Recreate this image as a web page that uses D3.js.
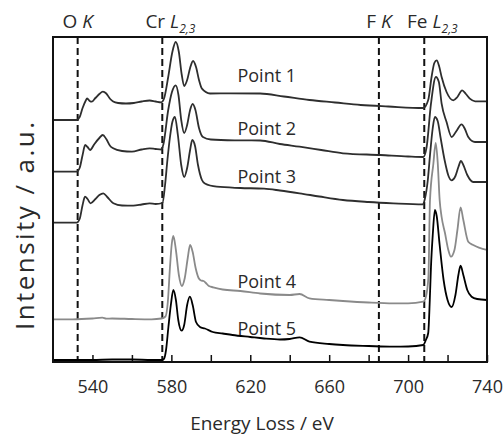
<!DOCTYPE html>
<html>
<head>
<meta charset="utf-8">
<script src="https://d3js.org/d3.v7.min.js"></script>
<style>
  body { margin: 0; background: #fff; }
  text { font-family: "Open Sans", "Noto Sans", sans-serif; fill: #2a2a2a; }
</style>
</head>
<body>
<script>

//////////////////
// Data (EELS)  //
//////////////////

// [energy loss (eV), intensity (a.u.)]
var point1 = [
  [520,242],[532,242],[533.5,245],[535,254],[536.5,261],[537.3,263.5],[538.6,261],[539.6,260.3],
  [541.5,264],[543.5,268],[545.3,270.3],[547,268.5],[549,263],[550.5,260.5],[553,259],[557,258.5],
  [561,259],[565,260.5],[569,261.5],[572,260.5],[574.8,259.7],[576.2,263],[578.4,285],[580.5,310],
  [582.2,320],[583.8,310],[585.2,288],[586.5,276],[588,282],[589.5,294],[591,301],[592.5,295],
  [594,282],[595.5,273.3],[599.6,268.5],[610,268.7],[625,268.5],[637,265.5],[650,262],[663,259.5],
  [676,257],[690,255.5],[707.7,254],[710.2,262],[711.9,285],[713.3,299],[714.5,301.7],[715.7,296],
  [717,285],[719.5,270],[722.9,261.7],[725,265],[727.4,271.7],[729.3,268],[731.3,263.3],[734,260.7],
  [740,260.7]
];

var point2 = [
  [520,190.3],[532,190.3],[533.5,194],[535,207],[536.3,217],[537.5,215],[538.8,212],[541,218],
  [543.5,224],[545.2,227],[547,223],[549,216],[550.5,213.7],[555,211],[560,210.3],[565,212.5],
  [569,213.7],[572,213],[575,212.5],[576,218],[578.4,252],[580.3,270],[582.2,276.7],[583.6,267],
  [585,242],[586.5,229],[588,237],[589.5,252],[590.8,258],[592.2,252],[594,234],[596,225],
  [600,222.5],[612,221.7],[625,221.5],[635,218],[645,215.3],[656,212],[667,208.7],[686,207],
  [700,205.5],[707.7,205],[709.4,215],[711.6,258.3],[714.1,285],[715.6,280],[717,258.3],[719.5,240],
  [722.1,225],[724.5,231],[727.1,237.7],[728.8,233],[730.5,225],[733.9,220],[740,220]
];

var point3 = [
  [520,139.3],[532,139.3],[533.5,143],[535,157],[536.2,165.3],[537.5,163],[539,158.7],[541.5,163],
  [543.5,167],[545.5,168.7],[547.5,165],[550.6,158.7],[555,156.5],[560.7,156.3],[565,157.5],[569,158.7],
  [572,158],[575.5,159],[576.8,177],[578,202],[579.3,225],[580.5,240],[581.8,245],[583.3,227],
  [585,197],[586.5,185],[588,194],[589.5,212],[590.6,222],[592,216],[593.5,197],[595.5,182],
  [597,178.5],[603,175.3],[615,174],[627,173.3],[635,171.5],[645,168.7],[655,165.5],[667,162],
  [680,160],[692.5,158.7],[707.5,157.7],[708.5,163],[710,182],[711.2,209],[712.5,234],[713.6,245],
  [715,241],[716.5,224],[718.5,202],[720.5,186],[722,181.7],[724,186],[725.5,195],[726.8,201],
  [728,197],[730,187],[733,180],[740,180]
];

var point4 = [
  [520,42.7],[530,42.7],[540,43.5],[545,44.3],[547,43.3],[550,43.5],[560,43],[570,42.7],
  [575,43.5],[577,45.5],[578.2,60],[579.3,95],[580.2,118],[581,126],[582.3,112],[583.8,87],
  [585.3,76],[586.8,84],[588.3,104],[589.5,117],[590.8,110],[592.3,94],[593.8,84],[595,81.5],
  [596.3,81],[597.5,79],[599,76],[601.2,74.7],[606,72.5],[615,71],[625,68.5],[640,67],
  [645,68],[650,63.7],[660,62],[667,61],[680,59.5],[692.5,58.7],[700,58.7],[707.7,60.3],
  [709,65],[710.3,85],[711.1,161.7],[712.8,198],[714,219],[715,200],[716,162],[717,145],
  [718.7,129],[720.4,112],[721.7,105.3],[723.5,112],[725,132],[726.6,154.7],[728,142],[730.5,120.3],
  [733,117],[740,112]
];

var point5 = [
  [520,2],[540,2],[550,2.5],[560,2.5],[570,2],[575,2],[576.2,3],[577.3,12],
  [578.5,35],[579.8,58],[581,72],[582.3,62],[583.5,42],[585.2,31.3],[586.5,37],[588,57],
  [589.4,65.3],[590.8,57],[592.5,40],[594.5,35],[597,33.5],[601,30],[606,28.5],[611,27],
  [620,25],[627,23.5],[635,22.5],[640,23],[645,24.7],[650,20.3],[660,18],[667,17],
  [680,16],[692.5,15.3],[700,15.5],[707.7,17],[709,22],[710.2,29],[711,62],[711.6,95],
  [712.5,127],[713.6,152],[714.5,146],[716,117],[718,82],[720,62],[722.1,55],[724,67],
  [725.5,87],[726.6,96.3],[728,87],[730,72],[732.2,65.3],[735,63],[740,62]
];

var seriesNames = ['Point 1', 'Point 2', 'Point 3', 'Point 4', 'Point 5'];

// core-loss edges marked with dashed lines
var edgeElements = ['O', 'Cr', 'F', 'Fe'];
var edgeShells = ['K', 'L', 'K', 'L'];
var edgeSubs = ['', '2,3', '', '2,3'];
var edgeEnergies = [532.5, 575.4, 685.2, 708.2];

var xTicks = d3.range(540, 741, 20);
var xTickLabels = [540, 580, 620, 660, 700, 740];

////////////////
// Build SVG  //
////////////////

var W = 503, H = 437;
var box = { left: 53, right: 487, top: 37, bottom: 362 };

var svg = d3.select('body')
            .append('svg')
            .attr('width', W)
            .attr('height', H);

var x = d3.scaleLinear().domain([520, 740]).range([box.left, box.right]);
var y = d3.scaleLinear().domain([0, 325]).range([box.bottom, box.top]);

svg.append('clipPath').attr('id', 'plotClip')
   .append('rect')
   .attr('x', box.left).attr('y', box.top)
   .attr('width', box.right - box.left).attr('height', box.bottom - box.top);

// dashed edge lines
svg.append('g').selectAll('line')
   .data(edgeEnergies)
   .enter().append('line')
   .attr('x1', function(d){ return x(d); })
   .attr('x2', function(d){ return x(d); })
   .attr('y1', box.top)
   .attr('y2', box.bottom)
   .attr('stroke', '#111')
   .attr('stroke-width', 2)
   .attr('stroke-dasharray', '7,4');

// x axis, ticks pointing inward
var xAxis = d3.axisBottom(x)
              .tickValues(xTicks)
              .tickSize(-7)
              .tickPadding(18)
              .tickFormat(function(d){ return xTickLabels.indexOf(d) > -1 ? d : ''; });

var ax = svg.append('g')
            .attr('transform', 'translate(0,' + box.bottom + ')')
            .call(xAxis);
ax.select('.domain').remove();
ax.selectAll('line').attr('stroke', '#111').attr('stroke-width', 1.5);
ax.selectAll('text')
  .style('font-family', '"Open Sans", sans-serif')
  .style('font-size', '18px')
  .attr('fill', '#2a2a2a');

/////////////////
// Spectra     //
/////////////////

var lineGen = d3.line()
                .x(function(d){ return x(d[0]); })
                .y(function(d){ return y(d[1]); })
                .curve(d3.curveMonotoneX);

var allSeries = [point1, point2, point3, point4, point5];
var colors = ['#2e2e2e', '#2e2e2e', '#2e2e2e', '#8a8a8a', '#000'];

svg.append('g').attr('clip-path', 'url(#plotClip)')
   .selectAll('path')
   .data(allSeries)
   .enter().append('path')
   .attr('d', lineGen)
   .attr('fill', 'none')
   .attr('stroke', function(d, i){ return colors[i]; })
   .attr('stroke-width', 1.8)
   .attr('stroke-linejoin', 'round');

// series labels
var labelEnergy = 613.5;
var labelLevels = [280, 227, 179, 74, 27];

svg.append('g').selectAll('text')
   .data(seriesNames)
   .enter().append('text')
   .attr('x', x(labelEnergy))
   .attr('y', function(d, i){ return y(labelLevels[i]); })
   .style('font-size', '18px')
   .text(function(d){ return d; });

// frame
svg.append('rect')
   .attr('x', box.left).attr('y', box.top)
   .attr('width', box.right - box.left)
   .attr('height', box.bottom - box.top)
   .attr('fill', 'none')
   .attr('stroke', '#111')
   .attr('stroke-width', 2);

//////////////////
// Edge labels  //
//////////////////

edgeElements.forEach(function(el, i){
  var t = svg.append('text')
             .attr('y', 28)
             .style('font-size', '19px');
  t.append('tspan').text(el + ' ');
  t.append('tspan').style('font-style', 'italic').text(edgeShells[i]);
  var sub = null;
  if (edgeSubs[i]) {
    sub = t.append('tspan')
           .attr('dy', 5)
           .style('font-size', '12px')
           .style('font-style', 'italic')
           .text(edgeSubs[i]);
  }
  var total = t.node().getComputedTextLength();
  var subW = sub ? sub.node().getComputedTextLength() : 0;
  t.attr('x', x(edgeEnergies[i]) - (total - subW) / 2);
});

/////////////////
// Axis titles //
/////////////////

svg.append('text')
   .attr('x', 262)
   .attr('y', 430)
   .attr('text-anchor', 'middle')
   .style('font-size', '19px')
   .text('Energy Loss / eV');

svg.append('text')
   .attr('transform', 'translate(34,226) rotate(-90)')
   .attr('text-anchor', 'middle')
   .attr('textLength', 208)
   .attr('lengthAdjust', 'spacing')
   .style('font-size', '26px')
   .text('Intensity / a.u.');

</script>
</body>
</html>
